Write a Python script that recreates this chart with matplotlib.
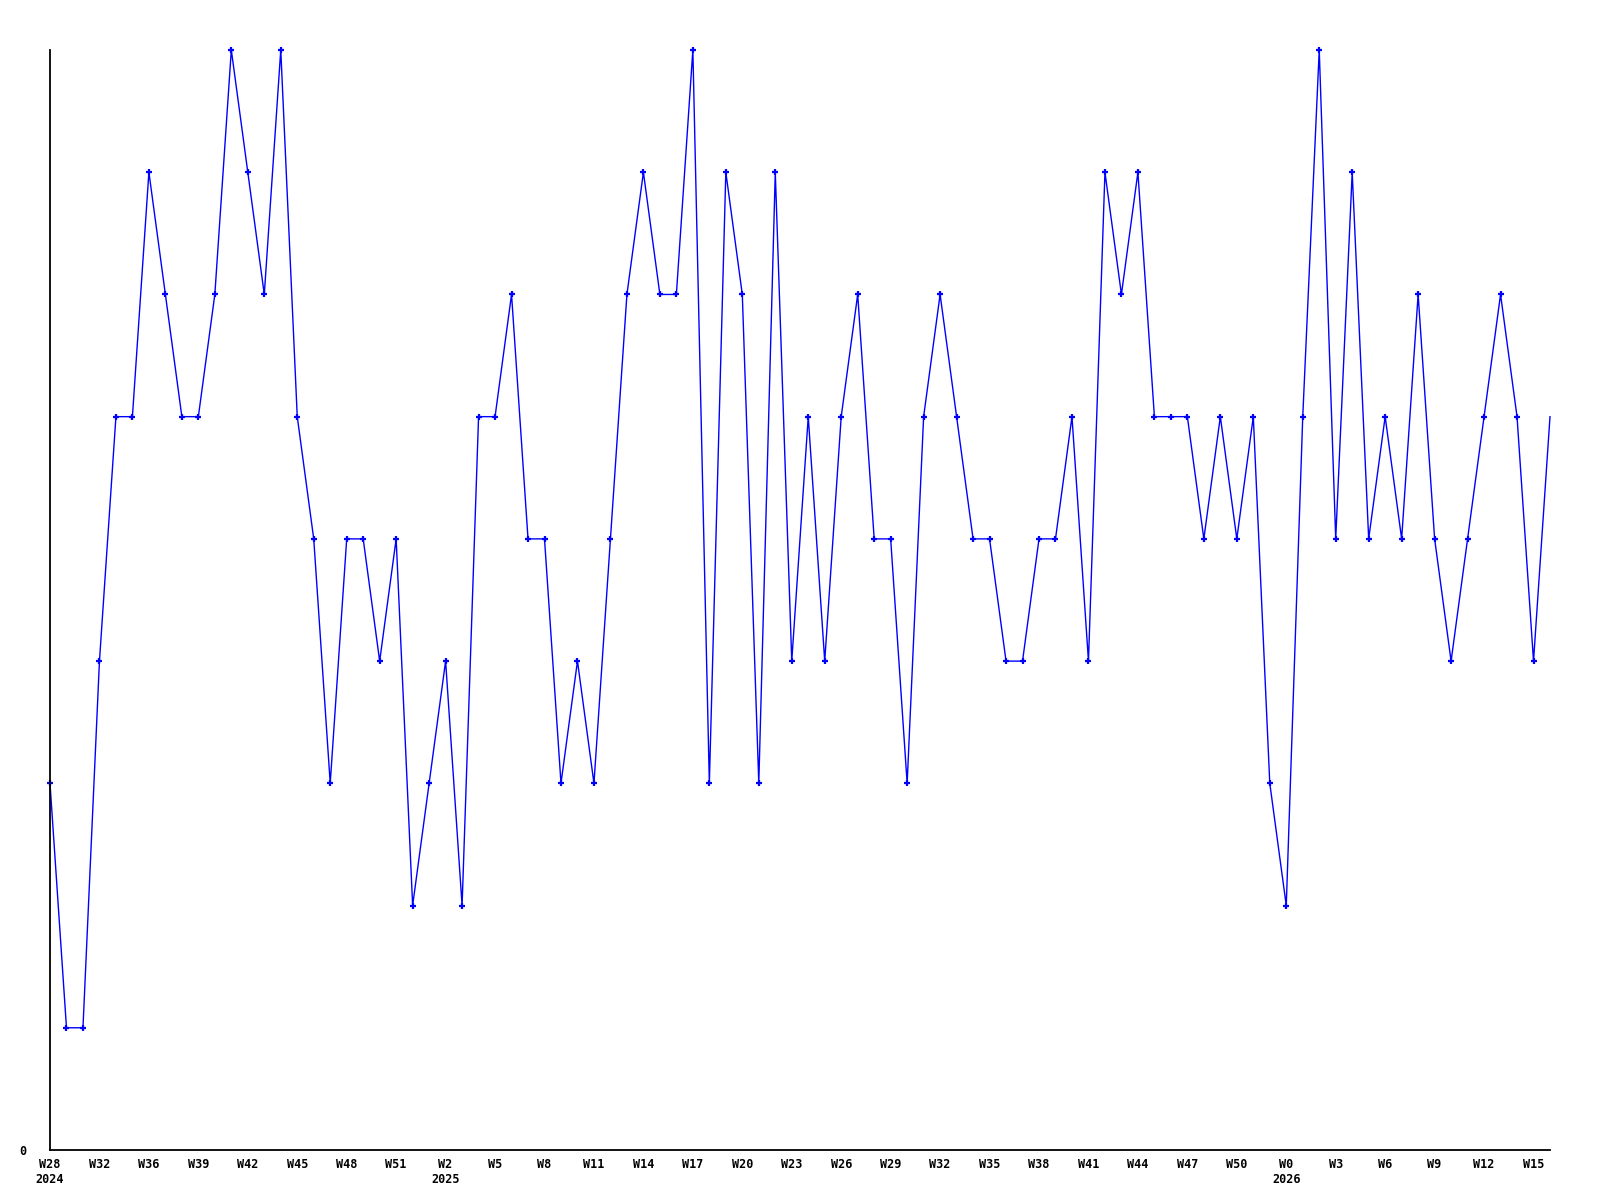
import matplotlib.pyplot as plt
import numpy as np

# weekly values, one per week
values = [3, 1, 1, 4, 6, 6, 8, 7, 6, 6, 7, 9, 8, 7, 9, 6, 5, 3, 5, 5,
          4, 5, 2, 3, 4, 2, 6, 6, 7, 5, 5, 3, 4, 3, 5, 7, 8, 7, 7, 9,
          3, 8, 7, 3, 8, 4, 6, 4, 6, 7, 5, 5, 3, 6, 7, 6, 5, 5, 4, 4,
          5, 5, 6, 4, 8, 7, 8, 6, 6, 6, 5, 6, 5, 6, 3, 2, 6, 9, 5, 8,
          5, 6, 5, 7, 5, 4, 5, 6, 7, 6, 4, 6]
week_labels = ['W28', 'W32', 'W36', 'W39', 'W42', 'W45', 'W48', 'W51', 'W2', 'W5',
               'W8', 'W11', 'W14', 'W17', 'W20', 'W23', 'W26', 'W29', 'W32', 'W35',
               'W38', 'W41', 'W44', 'W47', 'W50', 'W0', 'W3', 'W6', 'W9', 'W12', 'W15']
year_labels = {0: '2024', 8: '2025', 25: '2026'}

x = np.arange(len(values))

fig = plt.figure(figsize=(16, 12), dpi=100)
ax = fig.add_axes([50/1600, 50/1200, 1500/1600, 1100/1200])

ax.plot(x, values, color='#0000ff', lw=1.0, marker='+', ms=5, mew=1.6,
        markevery=list(range(len(values) - 1)), clip_on=False)

ax.set_xlim(0, len(values) - 1)
ax.set_ylim(0, max(values))

for s in ['top', 'right']:
    ax.spines[s].set_visible(False)
for s in ['left', 'bottom']:
    ax.spines[s].set_linewidth(1.3)

font = dict(family='DejaVu Sans Mono', weight='bold', size=8.5)
ticks = x[::3]
labels = []
for i, lab in enumerate(week_labels):
    if i in year_labels:
        labels.append(lab + '\n' + year_labels[i])
    else:
        labels.append(lab)
ax.set_xticks(ticks)
ax.set_xticklabels(labels, fontdict=font, linespacing=1.15, va='top')
ax.tick_params(axis='x', length=0, pad=6)
ax.set_yticks([0])
ax.set_yticklabels(['0'], fontdict=font)
ax.tick_params(axis='y', length=0, pad=17)

fig.savefig('out.png', dpi=100, facecolor='white')
